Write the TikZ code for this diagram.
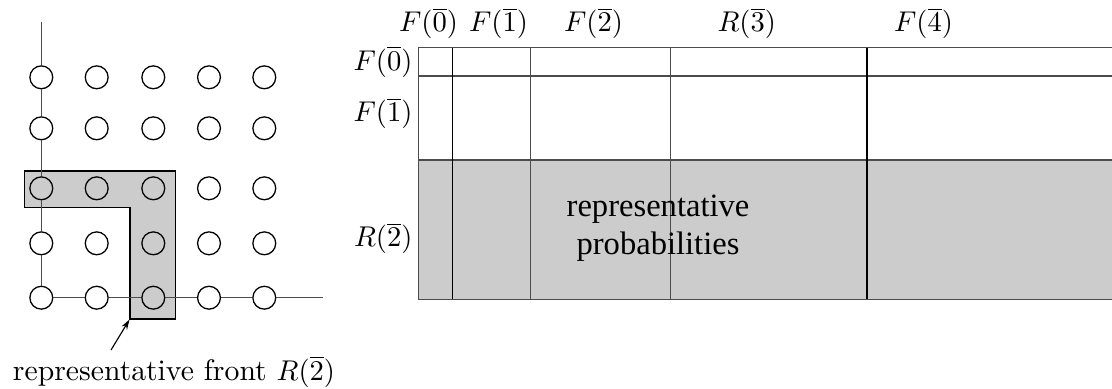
\documentclass[tikz,border=0pt]{standalone}
\usepackage{fontspec}
\newfontfamily\timesfont{Liberation Serif}
\usetikzlibrary{arrows.meta}
\begin{document}
\begin{tikzpicture}[x=0.35pt,y=-0.35pt,
  dot/.style={circle,draw=black,line width=0.45pt,minimum size=8pt,inner sep=0pt},
  axis/.style={draw=black!70,line width=0.5pt},
  front/.style={draw=black,line width=0.45pt,fill=black!20},
  gline/.style={draw=black!70,line width=0.5pt},
  dline/.style={draw=black,line width=0.5pt},
  lab/.style={inner sep=0pt,anchor=base},
  rlab/.style={inner sep=0pt,anchor=base east}]
\useasboundingbox (0,0) rectangle (1112,388);
% ---------- left: lattice ----------
\path[front] (24.3,171) -- (175.7,171) -- (175.7,319) -- (130,319) -- (130,207.3) -- (24.3,207.3) -- cycle;
\foreach \i/\x in {1/41.3,2/96.7,3/153.3,4/209,5/264.3}{
  \foreach \j/\y in {1/77.3,2/128.3,3/188.3,4/243.3,5/297.7}{
    \node[dot] (c\i\j) at (\x,\y) {};
  }
}
\coordinate (top) at (41.3,21.7);
\coordinate (rightend) at (323,297.7);
\draw[axis] (top) -- (c11) (c11) -- (c12) (c12) -- (c13) (c13) -- (c14) (c14) -- (c15)
  (c15) -- (c25) (c25) -- (c35) (c35) -- (c45) (c45) -- (c55) (c55) -- (rightend);
\coordinate (corner) at (129.5,319.5);
\coordinate (arrowstart) at (111,350);
\draw[line width=0.4pt,-{Stealth[length=3.5pt,width=2.2pt]}] (arrowstart) -- (corner);
\node[lab,font=\fontsize{10.4}{12}\selectfont] (frontlab) at (174,380) {representative front $R(\overline{2})$};
% ---------- right: table ----------
\fill[black!20] (418.3,160) rectangle (1112,299.3);
\foreach \y in {47.7,76,160,299.3}{ \draw[gline] (418.3,\y) -- (1112,\y); }
\draw[gline] (418.3,47.7) -- (418.3,299.3);
\draw[dline] (452.3,47.7) -- (452.3,299.3);
\draw[gline] (530.7,47.7) -- (530.7,299.3);
\draw[gline] (670.7,47.7) -- (670.7,299.3);
\draw[dline,line width=0.7pt] (866.7,47.7) -- (866.7,299.3);
% column labels
\node[lab] (cF0) at (428.5,31.5) {$F(\overline{0})$};
\node[lab] (cF1) at (498.5,31.5) {$F(\overline{1})$};
\node[lab] (cF2) at (593.5,31.5) {$F(\overline{2})$};
\node[lab] (cR3) at (746.7,31.5) {$R(\overline{3})$};
\node[lab] (cF4) at (923.5,31.5) {$F(\overline{4})$};
% row labels
\node[rlab] (rF0) at (413,70) {$F(\overline{0})$};
\node[rlab] (rF1) at (413,121.7) {$F(\overline{1})$};
\node[rlab] (rR2) at (413,246.7) {$R(\overline{2})$};
% centre text
\node[inner sep=0pt,anchor=base,align=center,font=\timesfont\fontsize{11.4}{13.3}\selectfont] (reprob) at (658,254) {representative\\probabilities};
\end{tikzpicture}
\end{document}
